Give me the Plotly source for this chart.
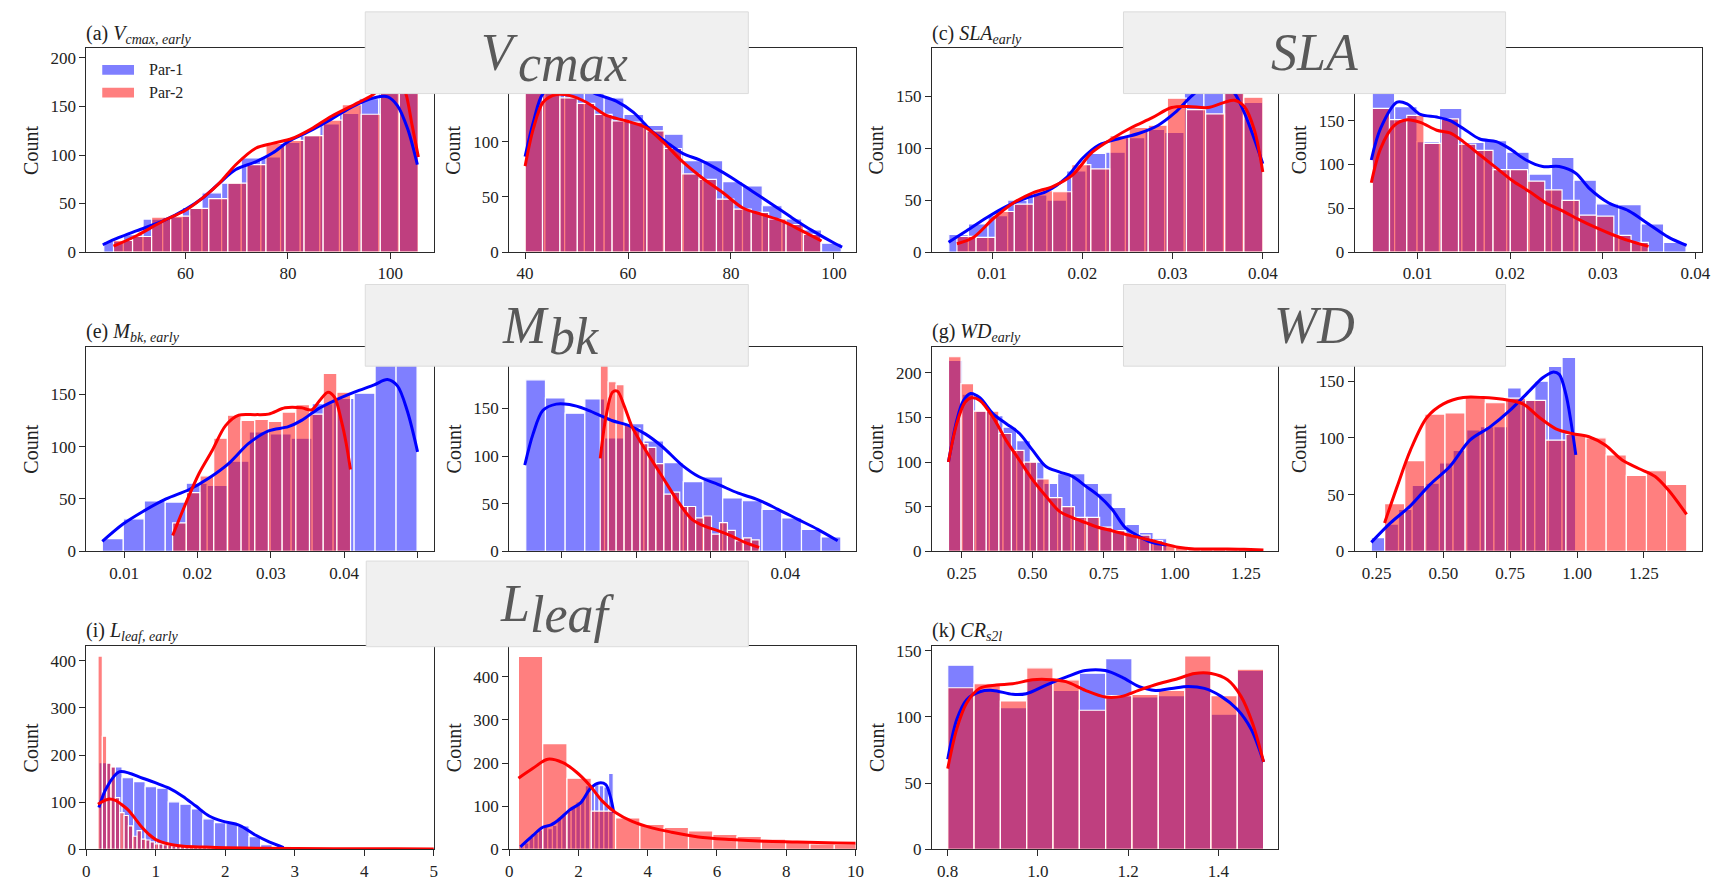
import plotly.graph_objects as go

W, H = 1721, 888

# ---------------- data ----------------
# (a) Vcmax early
a_blue_bin_start = 44.0
a_blue_bin_width = 3.84
a_blue_counts = [11, 18, 34, 36, 46, 61, 71, 97, 98, 113, 120, 132, 143, 158, 175, 168]
a_red_bin_start = 45.9
a_red_bin_width = 3.725
a_red_counts = [12, 16, 36, 37, 45, 55, 71, 90, 112, 115, 120, 136, 152, 142, 185, 200]
a_kde_blue_x = [43.8, 47, 50.5, 55.6, 60, 63.4, 66.6, 69.8, 73.7, 77, 80.1, 84, 88.5, 93, 96.9, 99.5, 101.4, 103.4, 105.3]
a_kde_blue_y = [7.5, 15, 22, 32, 44, 56, 71, 85, 93, 102, 114, 124, 137, 151, 159, 160, 151, 127, 90]
a_kde_red_x = [45.9, 50.5, 55.6, 60, 63.4, 66.6, 69.8, 73.7, 77, 80.8, 84.6, 88.5, 93, 96.3, 97.5, 99, 100.5, 102, 103, 104.3, 105.5]
a_kde_red_y = [6, 17, 32, 43, 56, 71, 90, 107, 112, 117, 127, 140, 152, 161, 166, 175, 178, 173, 164, 130, 98]

# (b) Vcmax late
b_blue_bin_start = 40.0
b_blue_bin_width = 3.84
b_blue_counts = [150, 176, 160, 150, 140, 125, 115, 107, 83, 83, 64, 60, 42, 30, 20, 8]
b_red_bin_start = 40.0
b_red_bin_width = 3.38
b_red_counts = [150, 150, 140, 135, 125, 119, 118, 110, 94, 71, 66, 48, 39, 36, 30, 25, 16]
b_kde_blue_x = [40, 41.6, 43.5, 46.8, 50, 53.5, 57.7, 61, 64.8, 67.4, 70.6, 73.9, 77.1, 80.3, 84.2, 88.1, 91.9, 95.8, 100.3, 101.6]
b_kde_blue_y = [86.6, 118, 144, 152, 153, 144, 137, 127, 109, 100, 89.6, 83.6, 76, 67, 55, 43, 31, 19.4, 7.5, 4.5]
b_kde_red_x = [40, 41.6, 43.5, 46.1, 48.7, 51.9, 55.8, 59.7, 63.5, 66.8, 70.6, 74.5, 78.4, 82.3, 86.1, 90, 93.9, 97.6]
b_kde_red_y = [78, 112, 136, 143, 142, 136, 124, 119, 113, 100, 82, 67, 54, 40, 34, 28, 19, 10]

# (c) SLA early
c_blue_bin_start = 0.0052
c_blue_bin_width = 0.002175
c_blue_counts = [17, 27, 35, 50, 55, 50, 78, 95, 96, 110, 118, 115, 155, 160, 187, 144]
c_red_bin_start = 0.0061
c_red_bin_width = 0.00212
c_red_counts = [15, 14, 39, 46, 59, 58, 84, 80, 112, 120, 122, 148, 137, 133, 160, 149]
c_kde_blue_x = [0.00517, 0.00718, 0.00938, 0.01158, 0.01377, 0.01597, 0.01817, 0.02, 0.02183, 0.02403, 0.02623, 0.02842, 0.03026, 0.03209, 0.03355, 0.03538, 0.03685, 0.03795, 0.03905, 0.04]
c_kde_blue_y = [9.5, 20.5, 33, 44, 52, 58, 71, 90, 103, 109, 114, 122, 134, 150, 160, 163, 153, 134, 109, 85]
c_kde_red_x = [0.0061, 0.00791, 0.01011, 0.01231, 0.01451, 0.0167, 0.0189, 0.0211, 0.0233, 0.0255, 0.0277, 0.0299, 0.03172, 0.03392, 0.03575, 0.03685, 0.03795, 0.03905, 0.04]
c_kde_red_y = [8, 14, 32, 47, 57, 63, 74, 96, 109, 120, 129, 139, 140, 139, 144, 146, 140, 118, 77]

# (d) SLA late
d_blue_bin_start = 0.0051
d_blue_bin_width = 0.00242
d_blue_counts = [220, 166, 126, 164, 125, 127, 114, 89, 108, 82, 55, 54, 32, 11]
d_red_bin_start = 0.0051
d_red_bin_width = 0.001863
d_red_counts = [164, 151, 156, 124, 152, 123, 116, 94, 94, 81, 71, 59, 42, 41, 19, 11]
d_kde_blue_x = [0.005, 0.006, 0.00779, 0.00886, 0.01029, 0.01207, 0.0135, 0.01493, 0.01671, 0.0185, 0.01993, 0.02171, 0.0235, 0.02529, 0.02707, 0.0285, 0.03064, 0.03279, 0.03493, 0.03707, 0.03904]
d_kde_blue_y = [105, 141, 171, 169, 157, 154, 150, 141, 129, 126, 118, 105, 97.5, 97.5, 90, 73, 56, 47, 32, 17, 7.5]
d_kde_red_x = [0.005, 0.006, 0.00743, 0.00886, 0.01029, 0.01207, 0.0135, 0.01493, 0.01671, 0.0185, 0.02029, 0.02207, 0.02386, 0.02564, 0.02743, 0.02921, 0.031, 0.03279, 0.03493]
d_kde_red_y = [79, 118, 144, 151, 148, 139, 136, 126, 111, 96, 81, 69, 56, 47, 37, 28, 20, 13, 6.4]

# (e) Mbk early
e_blue_bin_start = 0.00703
e_blue_bin_width = 0.00286
e_blue_counts = [12, 31, 48, 47, 65, 63, 86, 114, 112, 108, 141, 146, 151, 186, 178]
e_red_bin_start = 0.01662
e_red_bin_width = 0.001865
e_red_counts = [27, 56, 72, 108, 130, 125, 126, 124, 133, 140, 131, 170, 152]
e_kde_blue_x = [0.00703, 0.00986, 0.01257, 0.01572, 0.01888, 0.02158, 0.02428, 0.02698, 0.02969, 0.03239, 0.03419, 0.03644, 0.03869, 0.04139, 0.04409, 0.04589, 0.04725, 0.0486, 0.05]
e_kde_blue_y = [9.4, 26, 38, 50, 59, 70, 84, 103, 115, 119, 125, 136, 144, 152, 159, 164, 158, 134, 95]
e_kde_red_x = [0.01662, 0.01842, 0.02023, 0.02203, 0.02383, 0.02563, 0.02788, 0.02969, 0.03194, 0.03419, 0.03554, 0.03666, 0.03779, 0.03869, 0.0396, 0.04027, 0.04085]
e_kde_red_y = [15, 46, 74.5, 96.5, 120, 130, 130.5, 131, 137, 137, 135, 144, 152, 147, 125, 103, 78]

# (f) Mbk late
f_blue_bin_start = 0.00516
f_blue_bin_width = 0.002644
f_blue_counts = [180, 161, 145, 160, 119, 134, 116, 93, 73, 78, 56, 53, 44, 35, 23, 15]
f_red_bin_start = 0.01516
f_red_bin_width = 0.001067
f_red_counts = [205, 178, 175, 134, 129, 113, 109, 92, 60, 62, 47, 47, 35, 37, 18, 30, 22, 11, 14, 12]
f_kde_blue_x = [0.00503, 0.00613, 0.00747, 0.00925, 0.01103, 0.01325, 0.01503, 0.0168, 0.01903, 0.02125, 0.02347, 0.02613, 0.02836, 0.03103, 0.03369, 0.03636, 0.03903, 0.04169, 0.04436, 0.04703]
f_kde_blue_y = [90.5, 123, 148, 154.5, 154, 149, 143, 137, 132, 123, 110, 90.5, 78.5, 70, 61, 54, 44, 33.5, 23, 11]
f_kde_red_x = [0.01516, 0.01592, 0.0168, 0.01747, 0.01836, 0.01947, 0.02125, 0.02347, 0.0257, 0.02747, 0.02925, 0.03103, 0.0328, 0.03458, 0.03649]
f_kde_red_y = [97.5, 141, 167, 168, 153, 130, 106, 78.5, 51, 33.5, 26, 21.4, 16, 9.3, 4]

# (g) WD early
g_blue_bin_start = 0.2035
g_blue_bin_width = 0.048
g_blue_counts = [214, 176, 157, 152, 139, 124, 100, 76, 87, 87, 76, 65, 49, 30, 21, 14]
g_red_bin_start = 0.2035
g_red_bin_width = 0.04432
g_red_counts = [218, 188, 157, 157, 132, 113, 100, 81, 60, 50, 38, 38, 27, 23, 19, 18, 12, 8, 5, 4, 4, 3, 3, 3, 2]
g_kde_blue_x = [0.2035, 0.2326, 0.2558, 0.2814, 0.314, 0.3605, 0.407, 0.4535, 0.5, 0.5465, 0.593, 0.6395, 0.686, 0.7325, 0.779, 0.8256, 0.872, 0.9186, 0.9709]
g_kde_blue_y = [100, 146.5, 168.6, 176.8, 172, 154, 143, 132, 113, 95, 89, 84, 73, 62, 47, 26.5, 17, 10, 7]
g_kde_red_x = [0.2035, 0.2326, 0.2616, 0.285, 0.314, 0.3605, 0.407, 0.4535, 0.5, 0.5465, 0.593, 0.6395, 0.686, 0.7325, 0.779, 0.8256, 0.872, 0.9186, 0.965, 1.0116, 1.0698, 1.128, 1.186, 1.244, 1.3114]
g_kde_red_y = [100, 143, 167, 172, 169, 150, 124, 102, 80, 61.6, 45, 37.6, 32, 26.6, 23, 19, 15.5, 12, 8, 4.4, 2.6, 2.6, 2.6, 2.2, 1.5]

# (h) WD late
h_blue_bin_start = 0.23
h_blue_bin_width = 0.051
h_blue_counts = [12, 24, 37, 58, 60, 78, 89, 107, 110, 110, 144, 133, 150, 163, 171]
h_red_bin_start = 0.2797
h_red_bin_width = 0.0754
h_red_counts = [42, 80, 121, 122, 137, 131, 135, 133, 98, 103, 100, 85, 67, 71, 59]
h_kde_blue_x = [0.23, 0.3019, 0.3762, 0.4505, 0.5248, 0.5991, 0.6734, 0.7477, 0.822, 0.8715, 0.9087, 0.9334, 0.9582, 0.9768, 0.9954]
h_kde_blue_y = [7.8, 25, 40, 59, 75, 98, 109.5, 124, 141.5, 153, 158, 156, 138.5, 115, 85]
h_kde_red_x = [0.2797, 0.3267, 0.3762, 0.4381, 0.5, 0.5743, 0.6486, 0.7229, 0.7972, 0.8591, 0.921, 0.983, 1.0448, 1.1067, 1.1686, 1.2306, 1.2925, 1.342, 1.41]
h_kde_red_y = [25, 57, 89, 118, 130, 135.6, 135.6, 134, 130, 118, 108, 103.7, 101, 93.5, 80.5, 73, 66, 54, 32.5]

# (i) Lleaf early
i_blue_bin_start = 0.1815
i_blue_bin_width = 0.1662
i_blue_counts = [184, 175, 152, 144, 133, 130, 101, 96, 86, 65, 57, 56, 50, 27, 10, 4]
i_red_bin_start = 0.1675
i_red_bin_width = 0.0625
i_red_counts = [410, 240, 183, 175, 110, 78, 72, 50, 28, 40, 22, 20, 16, 12, 12, 10, 9, 8, 8, 7,
                6, 6, 5, 5, 5, 4, 4, 4, 3, 3, 3, 3, 3, 2, 2, 2, 2, 2, 2, 2,
                2, 2, 1, 1, 1, 1, 1, 1, 1, 1, 1, 1, 1, 1, 1, 1, 1, 1, 1, 1,
                1, 1, 1, 1, 1, 1, 1, 1, 1, 1, 1, 1, 1, 1, 1, 1, 1, 1]
i_kde_blue_x = [0.18, 0.287, 0.478, 0.81, 1.0, 1.19, 1.385, 1.576, 1.767, 1.958, 2.149, 2.24, 2.44, 2.63, 2.84]
i_kde_blue_y = [89, 130, 165, 151, 141, 130, 113, 92, 71, 60, 54, 48.5, 30, 16, 4]
i_kde_red_x = [0.167, 0.25, 0.33, 0.42, 0.5, 0.6, 0.7, 0.8, 0.9, 1.0, 1.2, 1.4, 1.7, 2.0, 2.5, 3.0, 4.0, 5.0, 5.5]
i_kde_red_y = [96, 103, 107, 104, 96, 84, 66, 47, 32, 21, 11, 7, 5, 3.5, 2.5, 2, 1.5, 1, 1]

# (j) Lleaf late
j_blue_bin_start = 0.305
j_blue_bin_width = 0.135
j_blue_counts = [6, 15, 28, 38, 45, 52, 48, 56, 75, 80, 88, 100, 110, 118, 148, 150, 150, 148, 145, 176]
j_red_bin_start = 0.267
j_red_bin_width = 0.7015
j_red_counts = [447, 245, 165, 89, 73, 58, 51, 43, 35, 30, 24, 19, 13, 12, 11]
j_kde_blue_x = [0.324, 0.687, 0.97, 1.21, 1.45, 1.74, 2.07, 2.36, 2.6, 2.79, 2.93, 3.02]
j_kde_blue_y = [6, 32.6, 51.5, 57, 70, 91, 108.6, 142.6, 154, 150, 120, 85.6]
j_kde_red_x = [0.267, 0.687, 1.116, 1.55, 1.93, 2.31, 2.69, 3.07, 3.55, 4.12, 4.69, 5.46, 6.41, 7.37, 8.32, 9.47, 10.5]
j_kde_red_y = [165, 188, 209, 201, 180, 150, 112, 85.6, 65, 50, 40, 29, 23, 19, 17.4, 15, 14]

# (k) CRs2l
k_blue_bin_start = 0.8
k_blue_bin_width = 0.05833
k_blue_counts = [139, 120, 107, 128, 120, 133, 144, 115, 116, 133, 102, 135]
k_red_bin_start = 0.8
k_red_bin_width = 0.05833
k_red_counts = [122, 125, 112, 137, 128, 105, 116, 117, 120, 146, 116, 136]
k_kde_blue_x = [0.8, 0.82, 0.842, 0.871, 0.9, 0.944, 0.974, 1.018, 1.062, 1.105, 1.149, 1.186, 1.223, 1.26, 1.296, 1.333, 1.369, 1.406, 1.442, 1.472, 1.5]
k_kde_blue_y = [68, 98, 113, 119, 120, 117, 117.5, 124, 130, 135, 135, 130, 123, 120, 121.5, 123, 121.5, 115.5, 105.6, 91, 66]
k_kde_red_x = [0.8, 0.82, 0.842, 0.871, 0.908, 0.944, 0.988, 1.018, 1.062, 1.105, 1.149, 1.186, 1.223, 1.267, 1.311, 1.347, 1.384, 1.42, 1.45, 1.475, 1.5]
k_kde_red_y = [61, 91, 110.5, 121.6, 124, 125, 128, 128.3, 126.6, 120, 115, 115.5, 120, 125, 129, 132.7, 132.7, 128, 115.5, 95.7, 66]

# tick labels
ticks_vcmax_a = [60, 80, 100]
ticks_vcmax_b = [40, 60, 80, 100]
ticks_sla = [0.01, 0.02, 0.03, 0.04]
ticks_mbk = [0.01, 0.02, 0.03, 0.04, 0.05]
ticks_wd = [0.25, 0.50, 0.75, 1.00, 1.25]
ticks_wd_text = ["0.25", "0.50", "0.75", "1.00", "1.25"]
ticks_lleaf_i = [0, 1, 2, 3, 4, 5]
ticks_lleaf_j = [0, 2, 4, 6, 8, 10]
ticks_cr = [0.8, 1.0, 1.2, 1.4]
ticks_cr_text = ["0.8", "1.0", "1.2", "1.4"]
legend_labels = ["Par-1", "Par-2"]

# ---------------- layout helpers ----------------
COLS = [(83, 433), (509, 858), (935, 1284), (1361, 1711)]
ROWS = [(45, 252), (348, 556), (652, 859)]

def fx(p):
    return p / W

def fy(p):
    return 1 - p / H

BLUE_FILL = 'rgba(0,0,255,0.5)'
RED_FILL = 'rgba(255,0,0,0.5)'
FONT = '"Liberation Serif", "Times New Roman", Times, serif'
AX = '#2a2a2a'

def labels(vals, fmt, hidden=()):
    # tick labels; the ones covered by the grey banners are left blank
    return ['' if v in hidden else fmt % v for v in vals]

panels = [
    dict(r=0, c=0, bs=a_blue_bin_start, bw=a_blue_bin_width, bc=a_blue_counts, rs=a_red_bin_start, rw=a_red_bin_width, rc=a_red_counts,
         kbx=a_kde_blue_x, kby=a_kde_blue_y, krx=a_kde_red_x, kry=a_kde_red_y, xr=[40.6, 108.5], yr=[0, 210],
         xt=ticks_vcmax_a, xtt=labels(ticks_vcmax_a, '%d'), yt=[0, 50, 100, 150, 200], hy=()),
    dict(r=0, c=1, bs=b_blue_bin_start, bw=b_blue_bin_width, bc=b_blue_counts, rs=b_red_bin_start, rw=b_red_bin_width, rc=b_red_counts,
         kbx=b_kde_blue_x, kby=b_kde_blue_y, krx=b_kde_red_x, kry=b_kde_red_y, xr=[36.9, 104.2], yr=[0, 185],
         xt=ticks_vcmax_b, xtt=labels(ticks_vcmax_b, '%d'), yt=[0, 50, 100, 150], hy=(150,)),
    dict(r=0, c=2, bs=c_blue_bin_start, bw=c_blue_bin_width, bc=c_blue_counts, rs=c_red_bin_start, rw=c_red_bin_width, rc=c_red_counts,
         kbx=c_kde_blue_x, kby=c_kde_blue_y, krx=c_kde_red_x, kry=c_kde_red_y, xr=[0.00333, 0.04172], yr=[0, 196],
         xt=ticks_sla, xtt=labels(ticks_sla, '%.2f'), yt=[0, 50, 100, 150], hy=()),
    dict(r=0, c=3, bs=d_blue_bin_start, bw=d_blue_bin_width, bc=d_blue_counts, rs=d_red_bin_start, rw=d_red_bin_width, rc=d_red_counts,
         kbx=d_kde_blue_x, kby=d_kde_blue_y, krx=d_kde_red_x, kry=d_kde_red_y, xr=[0.00321, 0.04071], yr=[0, 232.5],
         xt=ticks_sla, xtt=labels(ticks_sla, '%.2f'), yt=[0, 50, 100, 150, 200], hy=(200,)),
    dict(r=1, c=0, bs=e_blue_bin_start, bw=e_blue_bin_width, bc=e_blue_counts, rs=e_red_bin_start, rw=e_red_bin_width, rc=e_red_counts,
         kbx=e_kde_blue_x, kby=e_kde_blue_y, krx=e_kde_red_x, kry=e_kde_red_y, xr=[0.00486, 0.0522], yr=[0, 195.6],
         xt=ticks_mbk, xtt=labels(ticks_mbk, '%.2f', (0.05,)), yt=[0, 50, 100, 150], hy=()),
    dict(r=1, c=1, bs=f_blue_bin_start, bw=f_blue_bin_width, bc=f_blue_counts, rs=f_red_bin_start, rw=f_red_bin_width, rc=f_red_counts,
         kbx=f_kde_blue_x, kby=f_kde_blue_y, krx=f_kde_red_x, kry=f_kde_red_y, xr=[0.00293, 0.04943], yr=[0, 215],
         xt=ticks_mbk[:4], xtt=labels(ticks_mbk[:4], '%.2f', (0.01, 0.02, 0.03)), yt=[0, 50, 100, 150, 200], hy=(200,)),
    dict(r=1, c=2, bs=g_blue_bin_start, bw=g_blue_bin_width, bc=g_blue_counts, rs=g_red_bin_start, rw=g_red_bin_width, rc=g_red_counts,
         kbx=g_kde_blue_x, kby=g_kde_blue_y, krx=g_kde_red_x, kry=g_kde_red_y, xr=[0.1454, 1.3637], yr=[0, 229.5],
         xt=ticks_wd, xtt=ticks_wd_text, yt=[0, 50, 100, 150, 200], hy=()),
    dict(r=1, c=3, bs=h_blue_bin_start, bw=h_blue_bin_width, bc=h_blue_counts, rs=h_red_bin_start, rw=h_red_bin_width, rc=h_red_counts,
         kbx=h_kde_blue_x, kby=h_kde_blue_y, krx=h_kde_red_x, kry=h_kde_red_y, xr=[0.168, 1.468], yr=[0, 180.6],
         xt=ticks_wd, xtt=ticks_wd_text, yt=[0, 50, 100, 150], hy=()),
    dict(r=2, c=0, bs=i_blue_bin_start, bw=i_blue_bin_width, bc=i_blue_counts, rs=i_red_bin_start, rw=i_red_bin_width, rc=i_red_counts,
         kbx=i_kde_blue_x, kby=i_kde_blue_y, krx=i_kde_red_x, kry=i_kde_red_y, xr=[0, 5], yr=[0, 432],
         xt=ticks_lleaf_i, xtt=labels(ticks_lleaf_i, '%d'), yt=[0, 100, 200, 300, 400], hy=()),
    dict(r=2, c=1, bs=j_blue_bin_start, bw=j_blue_bin_width, bc=j_blue_counts, rs=j_red_bin_start, rw=j_red_bin_width, rc=j_red_counts,
         kbx=j_kde_blue_x, kby=j_kde_blue_y, krx=j_kde_red_x, kry=j_kde_red_y, xr=[0, 10], yr=[0, 472],
         xt=ticks_lleaf_j, xtt=labels(ticks_lleaf_j, '%d'), yt=[0, 100, 200, 300, 400], hy=()),
    dict(r=2, c=2, bs=k_blue_bin_start, bw=k_blue_bin_width, bc=k_blue_counts, rs=k_red_bin_start, rw=k_red_bin_width, rc=k_red_counts,
         kbx=k_kde_blue_x, kby=k_kde_blue_y, krx=k_kde_red_x, kry=k_kde_red_y, xr=[0.765, 1.5326], yr=[0, 153.7],
         xt=ticks_cr, xtt=ticks_cr_text, yt=[0, 50, 100, 150], hy=()),
]

fig = go.Figure()
layout = dict(width=W, height=H, margin=dict(l=0, r=0, t=0, b=0), paper_bgcolor='white', plot_bgcolor='white',
              barmode='overlay', showlegend=False, font=dict(family=FONT, size=17, color='#222'))
annotations = []
shapes = []

for n, p in enumerate(panels, start=1):
    xa = 'x' if n == 1 else 'x%d' % n
    ya = 'y' if n == 1 else 'y%d' % n
    for start, width, counts, col in ((p['bs'], p['bw'], p['bc'], BLUE_FILL), (p['rs'], p['rw'], p['rc'], RED_FILL)):
        centers = [start + (i + 0.5) * width for i in range(len(counts))]
        fig.add_trace(go.Bar(x=centers, y=counts, width=[width] * len(counts), xaxis=xa, yaxis=ya,
                             marker=dict(color=col, line=dict(color='white', width=1.2)),
                             hoverinfo='skip', showlegend=False))
    for kx, ky, col in ((p['kbx'], p['kby'], '#0000ff'), (p['krx'], p['kry'], '#ff0000')):
        fig.add_trace(go.Scatter(x=kx, y=ky, mode='lines', xaxis=xa, yaxis=ya,
                                 line=dict(color=col, width=3, shape='spline', smoothing=0.9),
                                 hoverinfo='skip', showlegend=False))
    c0, c1 = COLS[p['c']]
    r0, r1 = ROWS[p['r']]
    common = dict(showline=True, linecolor=AX, linewidth=1, mirror=True, ticks='outside', ticklen=6,
                  tickwidth=1, tickcolor=AX, showgrid=False, zeroline=False,
                  tickfont=dict(family=FONT, size=17, color='#222'), fixedrange=True)
    layout['xaxis' if n == 1 else 'xaxis%d' % n] = dict(domain=[fx(c0), fx(c1)], range=p['xr'], anchor=ya,
                                                         tickmode='array', tickvals=p['xt'], ticktext=p['xtt'], **common)
    layout['yaxis' if n == 1 else 'yaxis%d' % n] = dict(domain=[fy(r1), fy(r0)], range=p['yr'], anchor=xa,
                                                         tickmode='array', tickvals=p['yt'],
                                                         ticktext=labels(p['yt'], '%d', p['hy']), **common)
    annotations.append(dict(text='Count', x=fx(c0 - 56), y=fy((r0 + r1) / 2), xref='paper', yref='paper',
                            textangle=-90, showarrow=False, xanchor='center', yanchor='middle',
                            font=dict(family=FONT, size=20, color='#222')))

# panel titles
titles = [
    (0, 0, "(a) <i>V</i><sub><i>cmax, early</i></sub>"),
    (0, 2, "(c) <i>SLA</i><sub><i>early</i></sub>"),
    (1, 0, "(e) <i>M</i><sub><i>bk, early</i></sub>"),
    (1, 2, "(g) <i>WD</i><sub><i>early</i></sub>"),
    (2, 0, "(i) <i>L</i><sub><i>leaf, early</i></sub>"),
    (2, 2, "(k) <i>CR</i><sub><i>s2l</i></sub>"),
]
for r, c, t in titles:
    annotations.append(dict(text=t, x=fx(COLS[c][0] - 2), y=fy(ROWS[r][0] - 14), xref='paper', yref='paper',
                            showarrow=False, xanchor='left', yanchor='middle',
                            font=dict(family=FONT, size=20, color='#222')))

# legend (drawn in panel a)
for k, (lab, col) in enumerate(zip(legend_labels, [BLUE_FILL, RED_FILL])):
    yc = 67 + 23 * k
    shapes.append(dict(type='rect', xref='paper', yref='paper', x0=fx(99), x1=fx(131), y0=fy(yc + 5), y1=fy(yc - 5),
                       fillcolor=col, line=dict(width=0), layer='above'))
    annotations.append(dict(text=lab, x=fx(144), y=fy(yc), xref='paper', yref='paper', showarrow=False,
                            xanchor='left', yanchor='middle', font=dict(family=FONT, size=16, color='#222')))

# banners
banners = [
    ((364, 8, 750, 91), 'V', 'cmax', 520),
    ((1128, 8, 1513, 91), 'SLA', '', None),
    ((364, 285, 750, 368), 'M', 'bk', 551),
    ((1128, 285, 1513, 368), 'WD', '', None),
    ((365, 566, 750, 653), 'L', 'leaf', 532),
]
BFONT = dict(family=FONT, size=52, color='#595959')
for (x0, y0, x1, y1), main, sub, split in banners:
    shapes.append(dict(type='rect', xref='paper', yref='paper', x0=fx(x0), x1=fx(x1), y0=fy(y1), y1=fy(y0),
                       fillcolor='#f0f0f0', line=dict(color='#dcdcdc', width=1), layer='above'))
    yc = (y0 + y1) / 2
    if sub:
        annotations.append(dict(text='<i>%s</i>' % main, x=fx(split), y=fy(yc), xref='paper', yref='paper',
                                showarrow=False, xanchor='right', yanchor='middle', font=BFONT))
        annotations.append(dict(text='<i>%s</i>' % sub, x=fx(split - 4), y=fy(yc + 11), xref='paper', yref='paper',
                                showarrow=False, xanchor='left', yanchor='middle', font=BFONT))
    else:
        annotations.append(dict(text='<i>%s</i>' % main, x=fx((x0 + x1) / 2), y=fy(yc), xref='paper', yref='paper',
                                showarrow=False, xanchor='center', yanchor='middle', font=BFONT))

layout['annotations'] = annotations
layout['shapes'] = shapes
fig.update_layout(**layout)
fig.write_html("out.html", config={'displayModeBar': False})
